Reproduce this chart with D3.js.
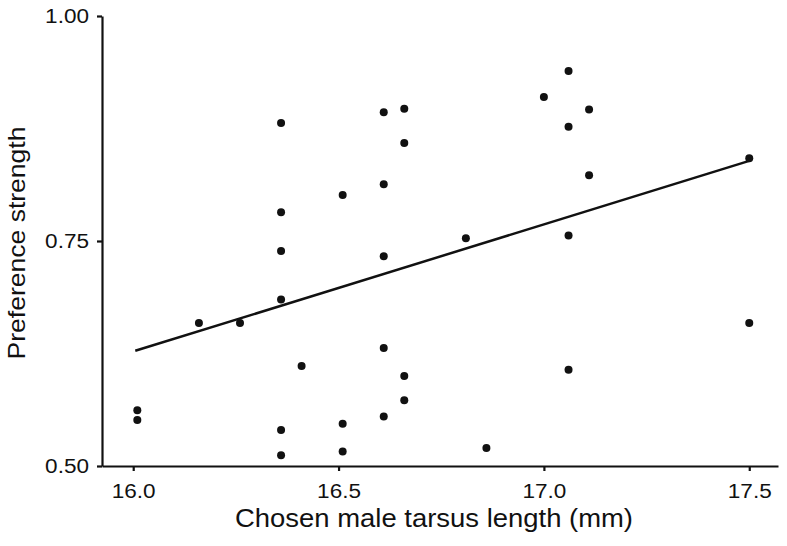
<!DOCTYPE html>
<html>
<head>
    <meta charset="utf-8">
    <title>Preference strength vs chosen male tarsus length</title>
    <script type="text/javascript" src="https://cdn.jsdelivr.net/npm/d3@7"></script>
    <style>
        body { margin: 0; background: #fff; }
        svg text { font-family: "Liberation Sans", Arial, Helvetica, sans-serif; fill: #111; }
    </style>
</head>
<body>
<svg id="svg"></svg>

<script type="text/javascript">

	// chosen male tarsus length (mm)
	var tarsus = [16.36, 16.61, 16.66, 16.66, 16.61, 16.51, 16.36, 16.36, 16.61, 16.36,
	              16.16, 16.26, 16.61, 16.41, 16.66, 16.01, 16.01, 16.66, 16.61, 16.51,
	              16.36, 16.51, 16.36, 17.06, 17.00, 17.11, 17.06, 17.11, 17.50, 17.06,
	              16.81, 17.50, 17.06, 16.86];
	// preference strength
	var preference = [0.881, 0.893, 0.897, 0.859, 0.813, 0.801, 0.782, 0.739, 0.733, 0.685,
	                  0.659, 0.659, 0.631, 0.611, 0.600, 0.562, 0.551, 0.573, 0.555, 0.547,
	                  0.540, 0.516, 0.512, 0.939, 0.910, 0.896, 0.877, 0.823, 0.842, 0.756,
	                  0.753, 0.659, 0.607, 0.520];

	// fitted line end points
	var fitX = [16.005, 17.5];
	var fitY = [0.628, 0.839];

	var xTicks = [16.0, 16.5, 17.0, 17.5];
	var yTicks = [0.50, 0.75, 1.00];

	var width = 787, height = 546;
	var ink = "#111";

	var svg = d3.select("#svg")
			.attr("width", width)
			.attr("height", height);

	var scaleX = d3.scaleLinear().domain([15.924, 17.57]).range([102, 778]);
	var scaleY = d3.scaleLinear().domain([0.5, 1.0]).range([466, 16]);

	// stretch text a little wider, the reference glyphs are wide
	function widen(sel, k) {
		sel.each(function() {
			var w = this.getComputedTextLength();
			d3.select(this).attr("textLength", w * k).attr("lengthAdjust", "spacingAndGlyphs");
		});
	}

	//X axis
	var axisX = d3.axisBottom(scaleX)
			.tickValues(xTicks)
			.tickFormat(d3.format(".1f"))
			.tickSizeInner(5)
			.tickSizeOuter(0)
			.tickPadding(12);

	var gX = svg.append("g")
			.attr("transform", "translate(0," + 466 + ")")
			.call(axisX);

	//Y axis
	var axisY = d3.axisLeft(scaleY)
			.tickValues(yTicks)
			.tickFormat(d3.format(".2f"))
			.tickSizeInner(5)
			.tickSizeOuter(0)
			.tickPadding(8);

	var gY = svg.append("g")
			.attr("transform", "translate(" + 102 + ",0)")
			.call(axisY);

	[gX, gY].forEach(function(g) {
		g.select(".domain").attr("stroke", ink).attr("stroke-width", 2.2);
		g.selectAll(".tick line").attr("stroke", ink).attr("stroke-width", 2.2);
		g.selectAll(".tick text")
			.attr("font-size", 20.5)
			.attr("fill", ink)
			.call(widen, 1.1);
		g.attr("font-family", null).attr("font-size", null);
	});

	// text label for the x axis
	svg.append("text")
		.attr("x", 434)
		.attr("y", 527)
		.attr("font-size", 25)
		.style("text-anchor", "middle")
		.text("Chosen male tarsus length (mm)")
		.attr("textLength", 398)
		.attr("lengthAdjust", "spacingAndGlyphs");

	// text label for the y axis
	svg.append("text")
		.attr("transform", "translate(" + 25 + "," + 243 + ")rotate(-90)")
		.attr("font-size", 24.5)
		.style("text-anchor", "middle")
		.text("Preference strength")
		.attr("textLength", 233)
		.attr("lengthAdjust", "spacingAndGlyphs");

	// regression line
	var fit = fitX.map(function(x, i) { return [x, fitY[i]]; });
	svg.append("path")
		.datum(fit)
		.attr("fill", "none")
		.attr("stroke", ink)
		.attr("stroke-width", 2.5)
		.attr("d", d3.line()
			.x(function(d) { return scaleX(d[0]); })
			.y(function(d) { return scaleY(d[1]); }));

	// points
	var pts = tarsus.map(function(x, i) { return {x: x, y: preference[i]}; });
	svg.append("g").selectAll("circle")
		.data(pts)
		.enter()
		.append("circle")
			.attr("cx", function(d) { return scaleX(d.x); })
			.attr("cy", function(d) { return scaleY(d.y); })
			.attr("r", 4)
			.attr("fill", "#111");

</script>
</body>
</html>
